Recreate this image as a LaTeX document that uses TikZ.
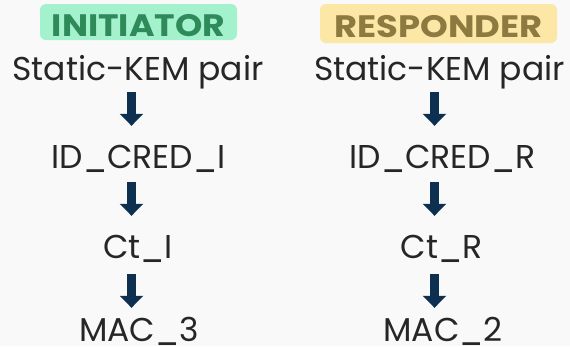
\documentclass[tikz,border=0pt]{standalone}
\usepackage{fontspec}
\setmainfont{Poppins}
\usetikzlibrary{arrows.meta}
\definecolor{bgc}{RGB}{249,249,249}
\definecolor{txtc}{RGB}{38,38,38}
\definecolor{navyc}{RGB}{13,48,80}
\definecolor{gfill}{RGB}{164,242,205}
\definecolor{gtext}{RGB}{47,138,90}
\definecolor{yfill}{RGB}{253,231,166}
\definecolor{ytext}{RGB}{140,122,64}
\begin{document}
\begin{tikzpicture}[x=1pt,y=-1pt,
  lbl/.style={font=\fontsize{33}{33}\selectfont, text=txtc, inner sep=0pt,
    text height=24pt, text depth=8pt, anchor=base},
  badge/.style={rounded corners=6pt, inner sep=0pt, text depth=0pt,
    font=\fontsize{31}{31}\selectfont\bfseries},
  arr/.style={draw=navyc, line width=9pt, -{Triangle[width=23pt,length=12pt]}}]
\useasboundingbox (0,0) rectangle (570,346);
\clip (0,0) rectangle (570,346);
\fill[bgc] (0,0) rectangle (570,346);
% badges
\node[badge, fill=gfill, text=gtext, minimum width=197pt, minimum height=36pt, text height=28pt] (bi) at (138.5,22) {\scalebox{1.12}[1]{INITIATOR}};
\node[badge, fill=yfill, text=ytext, minimum width=237pt, minimum height=39pt, text height=27pt] (br) at (438.5,23.5) {\scalebox{1.14}[1]{RESPONDER}};
% left column
\node[lbl] (ls) at (138,80) {Static-KEM pair};
\node[lbl] (li) at (138.5,168) {ID\_CRED\_I};
\node[lbl] (lc) at (138,258) {Ct\_I};
\node[lbl, text depth=4pt] (lm) at (139,341) {MAC\_3};
% right column
\node[lbl] (rs) at (439.5,80) {Static-KEM pair};
\node[lbl] (ri) at (442.5,168) {ID\_CRED\_R};
\node[lbl] (rc) at (441.5,258) {Ct\_R};
\node[lbl, text depth=4pt] (rm) at (443,341) {MAC\_2};
% arrows
\draw[arr, shorten <=4pt, shorten >=18pt] ([xshift=-6.5pt]ls.south) -- ([xshift=-6.5pt]ls.south |- li.north);
\draw[arr, shorten <=6pt, shorten >=18pt] ([xshift=-7pt]li.south) -- ([xshift=-7pt]li.south |- lc.north);
\draw[arr, shorten <=8pt, shorten >=9pt] ([xshift=-6.5pt]lc.south) -- ([xshift=-6.5pt]lc.south |- lm.north);
\draw[arr, shorten <=4pt, shorten >=18pt] ([xshift=-5pt]rs.south) -- ([xshift=-5pt]rs.south |- ri.north);
\draw[arr, shorten <=6pt, shorten >=18pt] ([xshift=-8pt]ri.south) -- ([xshift=-8pt]ri.south |- rc.north);
\draw[arr, shorten <=8pt, shorten >=9pt] ([xshift=-7pt]rc.south) -- ([xshift=-7pt]rc.south |- rm.north);
\end{tikzpicture}
\end{document}
